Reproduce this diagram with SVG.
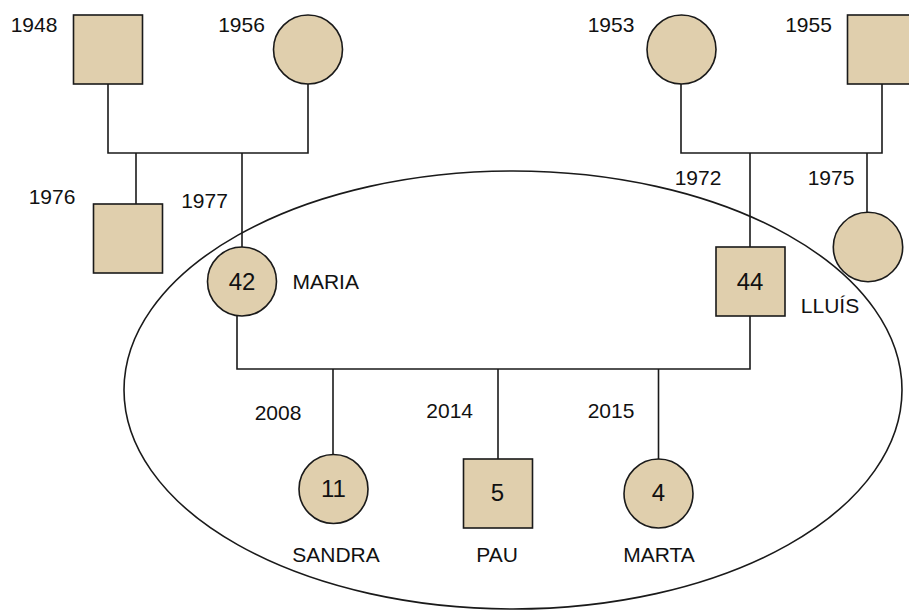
<svg xmlns="http://www.w3.org/2000/svg" width="909" height="610" viewBox="0 0 909 610">
<style>
.n{fill:#e0cfad;stroke:#1a1a1a;stroke-width:1.6}
.c{fill:none;stroke:#1a1a1a;stroke-width:1.6}
text{font-family:"Liberation Sans",Arial,sans-serif;fill:#111;text-anchor:middle}
.y{font-size:21px}
.a{font-size:24px}
</style>
<rect width="909" height="610" fill="#fff"/>
<ellipse id="household" cx="513" cy="390" rx="389" ry="219" class="c"/>
<g id="connectors">
<path class="c" d="M108 84V153H308V84"/>
<path class="c" d="M136 153V204"/>
<path class="c" d="M242 153V247"/>
<path class="c" d="M681 84V153H882V84"/>
<path class="c" d="M750 153V247"/>
<path class="c" d="M867 153V212"/>
<path class="c" d="M237 316V369H750V316"/>
<path class="c" d="M333 369V454"/>
<path class="c" d="M498 369V459"/>
<path class="c" d="M658.5 369V459"/>
</g>
<g id="p1948"><rect class="n" x="73.5" y="15" width="69" height="69"/><text class="y" x="34" y="32">1948</text></g>
<g id="p1956"><circle class="n" cx="308" cy="49.5" r="34.5"/><text class="y" x="241.5" y="32">1956</text></g>
<g id="p1953"><circle class="n" cx="681.5" cy="49.5" r="34.5"/><text class="y" x="611" y="32">1953</text></g>
<g id="p1955"><rect class="n" x="847.5" y="15" width="69" height="69"/><text class="y" x="808.5" y="32">1955</text></g>
<g id="p1976"><rect class="n" x="93.5" y="204" width="69" height="69"/><text class="y" x="52" y="203.5">1976</text></g>
<g id="maria"><circle class="n" cx="242" cy="281.5" r="34.5"/><text class="a" x="242" y="289.5">42</text><text class="y" x="325.7" y="288.5">MARIA</text><text class="y" x="204.5" y="208">1977</text></g>
<g id="lluis"><rect class="n" x="716" y="247" width="69" height="69"/><text class="a" x="750" y="289.5">44</text><text class="y" x="830" y="313">LLUÍS</text><text class="y" x="698" y="185">1972</text></g>
<g id="p1975"><circle class="n" cx="868" cy="247" r="34.7"/><text class="y" x="831" y="185">1975</text></g>
<g id="sandra"><circle class="n" cx="333.5" cy="489" r="34.5"/><text class="a" x="333.5" y="497">11</text><text class="y" x="336" y="562">SANDRA</text><text class="y" x="278" y="420">2008</text></g>
<g id="pau"><rect class="n" x="463.5" y="459" width="69" height="69"/><text class="a" x="497.5" y="501">5</text><text class="y" x="497" y="562">PAU</text><text class="y" x="449.7" y="417.5">2014</text></g>
<g id="marta"><circle class="n" cx="658.5" cy="493.5" r="34.5"/><text class="a" x="658.5" y="501">4</text><text class="y" x="659" y="562">MARTA</text><text class="y" x="611" y="417.5">2015</text></g>
</svg>
